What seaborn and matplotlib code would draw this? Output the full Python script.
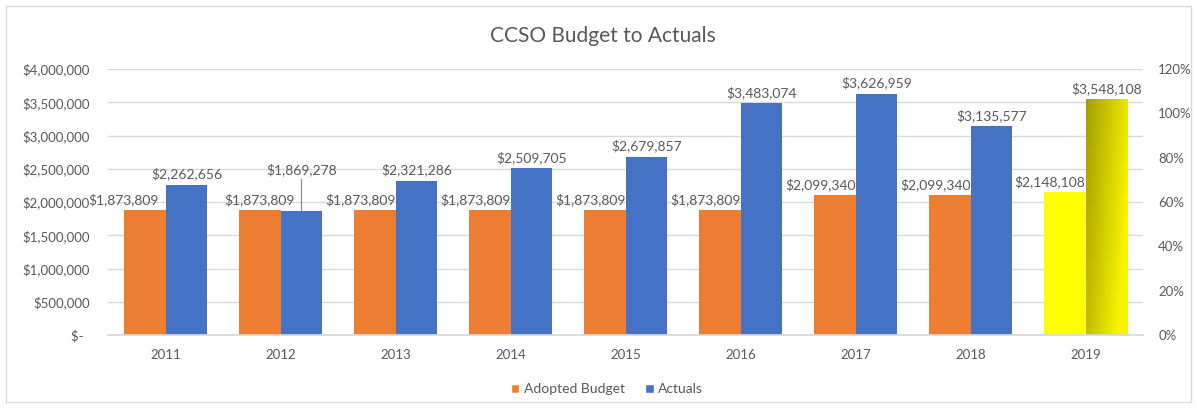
import matplotlib
matplotlib.use("Agg")
import matplotlib.pyplot as plt
from matplotlib.patches import Patch, Rectangle
from matplotlib.ticker import FuncFormatter, PercentFormatter
import numpy as np
import pandas as pd
import seaborn as sns

# ---- data ----
years = ["2011", "2012", "2013", "2014", "2015", "2016", "2017", "2018", "2019"]
adopted_budget = [1873809, 1873809, 1873809, 1873809, 1873809, 1873809, 2099340, 2099340, 2148108]
actuals = [2262656, 1869278, 2321286, 2509705, 2679857, 3483074, 3626959, 3135577, 3548108]
series_names = ["Adopted Budget", "Actuals"]
title = "CCSO Budget to Actuals"

ORANGE = "#ED7D31"
BLUE = "#4472C4"
YELLOW = "#FFFF00"
GRID = "#D9D9D9"
TEXT = "#595959"

df = pd.DataFrame({
    "year": years * 2,
    "series": [series_names[0]] * len(years) + [series_names[1]] * len(years),
    "value": adopted_budget + actuals,
})

sns.set_theme(style="white")
plt.rcParams["font.family"] = ["Lato", "DejaVu Sans"]

W, H = 1197, 408
fig = plt.figure(figsize=(W / 100, H / 100), dpi=100)
ax = fig.add_axes([108 / W, 1 - 335 / H, (1143 - 108) / W, (335 - 69) / H])

sns.barplot(data=df, x="year", y="value", hue="series", order=years,
            hue_order=series_names, palette={series_names[0]: ORANGE, series_names[1]: BLUE},
            width=0.73, saturation=1, legend=False, ax=ax, errorbar=None, linewidth=0)

ax.set_ylim(0, 4000000)
ax.set_yticks(np.arange(0, 4000001, 500000))
ax.yaxis.set_major_formatter(FuncFormatter(lambda v, p: "$-  " if v == 0 else f"${v:,.0f}"))
ax.set_xlim(-0.5, len(years) - 0.5)
ax.set_xlabel("")
ax.set_ylabel("")
ax.grid(axis="y", color=GRID, linewidth=1)
ax.set_axisbelow(True)
for s in ["top", "right", "left"]:
    ax.spines[s].set_visible(False)
ax.spines["bottom"].set_color(GRID)
ax.tick_params(axis="y", length=0, pad=13, labelsize=9.5, labelcolor=TEXT)
ax.tick_params(axis="x", length=0, pad=10, labelsize=9.5, labelcolor=TEXT)

budget_bars = ax.containers[0]
actual_bars = ax.containers[1]

# 2019 highlighted: plain yellow budget, shaded actuals
budget_bars[-1].set_facecolor(YELLOW)
last = actual_bars[-1]
last.set_facecolor("none")
x0, y0 = last.get_x(), last.get_y()
bw, bh = last.get_width(), last.get_height()
nx, ny = 64, 128
xf = np.linspace(0, 1, nx)[None, :]
yf = np.linspace(1, 0, ny)[:, None]  # 1 at the top row
t = np.clip(0.85 * xf + 0.35 * (1 - yf), 0, 1)
dark = np.array([0.64, 0.62, 0.0])
light = np.array([0.97, 0.96, 0.0])
img = dark[None, None, :] * (1 - t[..., None]) + light[None, None, :] * t[..., None]
im = ax.imshow(img, extent=[x0, x0 + bw, y0, y0 + bh], aspect="auto", zorder=last.get_zorder(),
               interpolation="bilinear", origin="upper")
im.set_clip_path(last)

# value labels
fmt = lambda v: f"${v:,.0f}"
label_kw = dict(fontsize=10, color=TEXT)
for i, bar in enumerate(budget_bars):
    v = adopted_budget[i]
    right = bar.get_x() + bar.get_width()
    if i == 1:
        ax.annotate(fmt(v), (bar.get_x() + bar.get_width() / 2, v), xytext=(0, 3),
                    textcoords="offset points", ha="center", va="bottom", **label_kw)
    else:
        dx = -5 if i == 0 else 0
        ax.annotate(fmt(v), (right, v), xytext=(dx, 3), textcoords="offset points",
                    ha="right", va="bottom", **label_kw)

for i, bar in enumerate(actual_bars):
    v = actuals[i]
    cx = bar.get_x() + bar.get_width() / 2
    if i == 1:
        # raised label with a leader line back to the bar
        ax.annotate(fmt(v), (cx, v), xytext=(0, 25), textcoords="offset points",
                    ha="center", va="bottom",
                    arrowprops=dict(arrowstyle="-", color="#8C8C8C", lw=0.9,
                                    shrinkA=0, shrinkB=0), **label_kw)
    else:
        ax.annotate(fmt(v), (cx, v), xytext=(0, 3), textcoords="offset points",
                    ha="center", va="bottom", **label_kw)

# secondary percentage axis
ax2 = ax.twinx()
ax2.set_ylim(0, 1.2)
ax2.set_yticks(np.arange(0, 1.21, 0.2))
ax2.yaxis.set_major_formatter(PercentFormatter(1.0, decimals=0))
ax2.tick_params(axis="y", length=0, pad=11, labelsize=9.5, labelcolor=TEXT)
for s in ax2.spines.values():
    s.set_visible(False)
ax2.grid(False)

fig.text(603 / W, 1 - 36 / H, title, ha="center", va="center", fontsize=15, color=TEXT)

handles = [Patch(facecolor=ORANGE, label=series_names[0]), Patch(facecolor=BLUE, label=series_names[1])]
fig.legend(handles=handles, loc="center", bbox_to_anchor=(607 / W, 1 - 389 / H), ncol=2,
           frameon=False, fontsize=10, labelcolor=TEXT, handlelength=0.6, handleheight=0.6,
           handletextpad=0.3, columnspacing=1.5)

# chart area border
fig.patches.append(Rectangle((6 / W, 6 / H), 1 - 12 / W, 1 - 12 / H, transform=fig.transFigure,
                             fill=False, edgecolor=GRID, linewidth=1))

fig.savefig("out.png", dpi=100, facecolor="white")
